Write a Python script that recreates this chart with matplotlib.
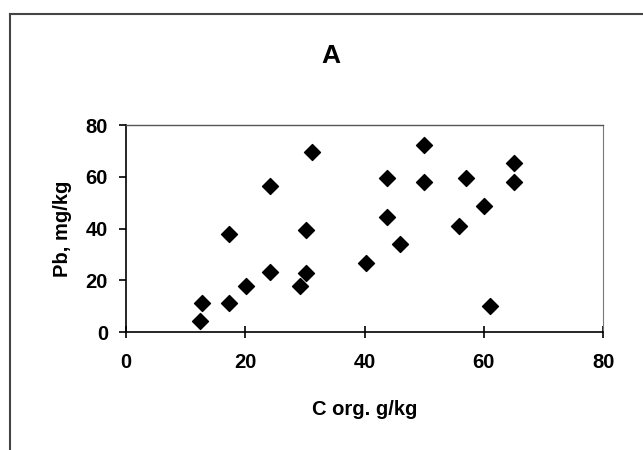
import matplotlib
matplotlib.use("Agg")
import matplotlib.pyplot as plt
from matplotlib.lines import Line2D

# Organic carbon (g/kg) vs lead (mg/kg)
c_org = [12.4, 12.7, 17.2, 17.2, 20.2, 24.2, 24.2, 29.2, 30.2, 30.2, 31.2, 40.3,
         43.8, 43.8, 45.9, 49.9, 49.9, 55.9, 57.0, 60.1, 61.1, 65.0, 65.0]
pb = [4.4, 11.3, 11.3, 37.8, 17.8, 56.4, 23.1, 17.8, 39.4, 22.7, 69.7, 26.8,
      59.6, 44.6, 33.9, 72.3, 58.1, 41.0, 59.6, 48.7, 10.0, 65.2, 58.1]

x_ticks = [0, 20, 40, 60, 80]
y_ticks = [0, 20, 40, 60, 80]

plt.rcParams["font.family"] = ["Liberation Sans", "DejaVu Sans"]
plt.rcParams["font.weight"] = "bold"

fig = plt.figure(figsize=(6.43, 4.5), dpi=100)
ax = fig.add_axes([0.196, 0.262, 0.742, 0.46])

ax.scatter(c_org, pb, marker="D", s=66, color="black", zorder=3)

ax.set_xlim(0, 80)
ax.set_ylim(0, 80)
ax.set_xticks(x_ticks)
ax.set_yticks(y_ticks)
ax.tick_params(axis="x", direction="inout", length=8, width=1.2, pad=11, labelsize=14.5)
ax.tick_params(axis="y", direction="out", length=5, width=1.2, pad=8, labelsize=14.5)
for lab in ax.get_xticklabels() + ax.get_yticklabels():
    lab.set_fontweight("bold")

ax.set_xlabel("C org. g/kg", fontsize=14.5, fontweight="bold", labelpad=20)
ax.set_ylabel("Pb, mg/kg", fontsize=14.5, fontweight="bold", labelpad=10)

ax.spines["left"].set_linewidth(1.2)
ax.spines["bottom"].set_linewidth(1.2)
ax.spines["top"].set_linewidth(1.0)
ax.spines["top"].set_color("#555555")
ax.spines["right"].set_linewidth(0.8)
ax.spines["right"].set_color("#777777")

fig.text(0.514, 0.876, "A", fontsize=19, fontweight="bold", ha="center", va="center")

# outer chart frame (cut off at right and bottom in the scan)
fig.add_artist(Line2D([10 / 643, 10 / 643], [0, 1 - 14 / 450], transform=fig.transFigure,
                      color="#444444", linewidth=1.5))
fig.add_artist(Line2D([10 / 643, 1], [1 - 14 / 450, 1 - 14 / 450], transform=fig.transFigure,
                      color="#444444", linewidth=1.5))

fig.savefig("out.png", dpi=100)
